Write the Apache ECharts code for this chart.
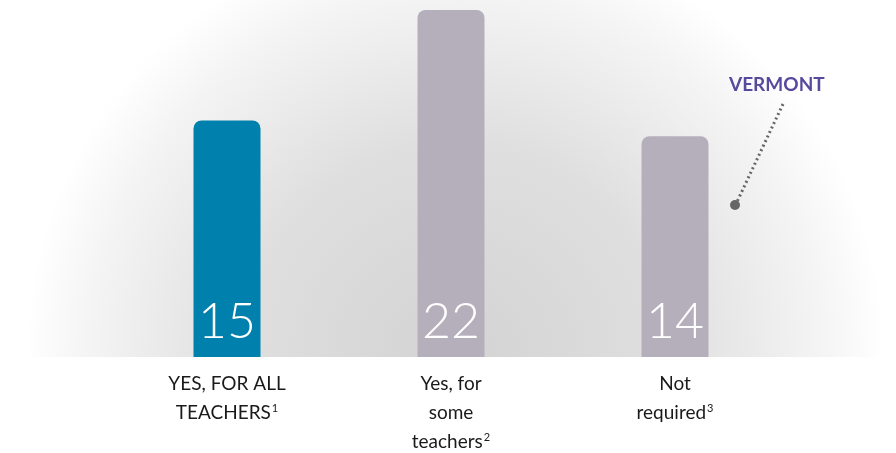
<!DOCTYPE html>
<html>
<head>
<meta charset="utf-8">
<style>
  html, body { margin: 0; padding: 0; background: #fff; }
  #chart { width: 896px; height: 453px; }
</style>
<script src="https://cdn.jsdelivr.net/npm/echarts@6/dist/echarts.min.js"></script>
</head>
<body>
<div id="chart"></div>
<script>
// categories with footnote markers
const categories = ['YES, FOR ALL\nTEACHERS{sup|1}', 'Yes, for\nsome\nteachers{sup|2}', 'Not\nrequired{sup|3}']
const values = [15, 22, 14]
const barColors = ['#0080ad', '#b5afbc', '#b5afbc']

const chart = echarts.init(document.getElementById('chart'))

chart.setOption({
  animation: false,
  grid: {
    top: 10,
    left: 115,
    width: 672,
    bottom: 96,
    outerBoundsMode: 'none',
    containLabel: false
  },
  xAxis: {
    type: 'category',
    data: categories,
    axisLine: { show: false },
    axisTick: { show: false },
    axisLabel: {
      margin: 12,
      color: '#1a1a1a',
      fontFamily: 'Lato',
      fontSize: 19,
      lineHeight: 29,
      rich: {
        sup: { fontSize: 11, verticalAlign: 'top', lineHeight: 19, padding: [5, 0, 0, 1] }
      }
    }
  },
  yAxis: {
    type: 'value',
    min: 0,
    max: 22,
    show: false,
    splitLine: { show: false }
  },
  graphic: [
    {
      // soft grey glow behind the bars
      type: 'rect',
      z: -10,
      silent: true,
      shape: { x: 30, y: 0, width: 850, height: 357 },
      style: {
        fill: {
          type: 'radial',
          x: 455, y: 357, r: 430,
          global: true,
          colorStops: [
            { offset: 0, color: '#d3d3d3' },
            { offset: 0.5, color: '#dfdfdf' },
            { offset: 0.85, color: '#f4f4f4' },
            { offset: 1, color: '#ffffff' }
          ]
        }
      }
    },
    {
      type: 'text',
      left: 729,
      top: 75,
      style: {
        text: 'VERMONT',
        fill: '#574a9e',
        font: 'bold 19px Lato'
      }
    },
    {
      type: 'line',
      shape: { x1: 783, y1: 104, x2: 736, y2: 204 },
      style: { stroke: '#666', lineWidth: 3, lineDash: [2, 3] }
    },
    {
      type: 'circle',
      shape: { cx: 735, cy: 205, r: 5 },
      style: { fill: '#666' }
    }
  ],
  series: [{
    type: 'bar',
    barWidth: 67,
    data: values.map((v, i) => ({
      value: v,
      itemStyle: { color: barColors[i] }
    })),
    itemStyle: { borderRadius: [8, 8, 0, 0] },
    label: {
      show: true,
      position: 'insideBottom',
      distance: 10,
      color: '#fff',
      fontFamily: 'Lato',
      fontWeight: 300,
      fontSize: 50
    }
  }]
})
</script>
</body>
</html>
